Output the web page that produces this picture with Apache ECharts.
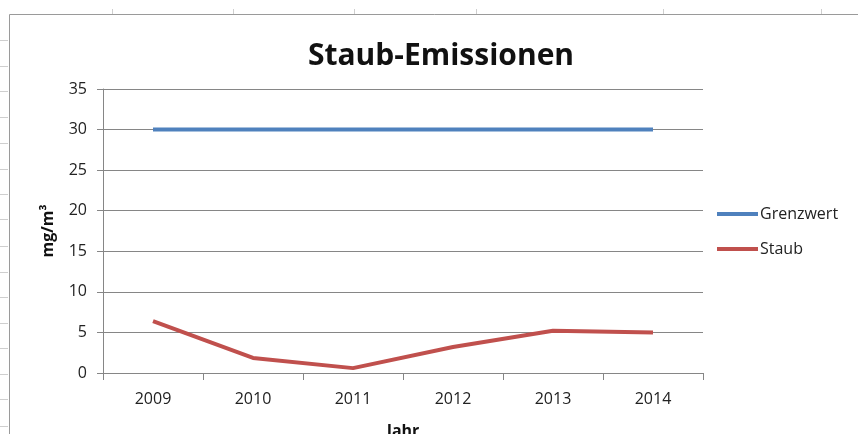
<!DOCTYPE html>
<html>
<head>
<meta charset="utf-8">
<script src="https://cdn.jsdelivr.net/npm/echarts@6/dist/echarts.min.js"></script>
<style>
html,body{margin:0;padding:0;background:#fff;overflow:hidden;}
#c{width:858px;height:434px;}
</style>
</head>
<body>
<div id="c"></div>
<script>
const categories = ['2009','2010','2011','2012','2013','2014'];
const grenzwert = [30, 30, 30, 30, 30, 30];
const staub = [6.4, 1.85, 0.6, 3.2, 5.2, 5.0];
const seriesNames = ['Grenzwert', 'Staub'];
const titleText = 'Staub-Emissionen';
const yName = 'mg/m³';
const xName = 'Jahr';
// spreadsheet decoration (sheet column/row marks outside the chart)
const colMarks = [112, 233, 354, 476, 663, 821];
const rowMarks = [40, 66, 91, 117, 143, 169, 194, 219, 246, 272, 297, 323, 348, 374, 399, 426];

const FONT = '"Open Sans", "Liberation Sans", sans-serif';
const graphics = [];
graphics.push({type:'rect', shape:{x:9.5, y:14.5, width:900, height:500}, style:{fill:'#fff', stroke:'#9a9a9a', lineWidth:1}, z:-10});
colMarks.forEach(x => graphics.push({type:'line', shape:{x1:x+0.5,y1:9,x2:x+0.5,y2:14}, style:{stroke:'#cfcfcf', lineWidth:1}, z:-10}));
rowMarks.forEach(y => graphics.push({type:'line', shape:{x1:0,y1:y+0.5,x2:8,y2:y+0.5}, style:{stroke:'#cfcfcf', lineWidth:1}, z:-10}));

const chart = echarts.init(document.getElementById('c'), null, {width:858, height:434});
chart.setOption({
  animation:false,
  backgroundColor:'#fff',
  graphic: graphics,
  title:{text:titleText, left:436, top:36, textAlign:'center',
    textStyle:{fontFamily:FONT, fontSize:30, fontWeight:'bold', color:'#111'}},
  grid:{left:103, top:89, width:600, height:284, containLabel:false, outerBoundsMode:'none'},
  legend:{orient:'vertical', left:712, top:201, itemWidth:41, itemHeight:4, itemGap:19, icon:'rect',
    data:seriesNames,
    textStyle:{fontFamily:FONT, fontSize:16, color:'#222', padding:[0,0,0,-3]}},
  xAxis:{type:'category', data:categories, boundaryGap:true,
    name:xName, nameLocation:'middle', nameGap:50,
    nameTextStyle:{fontFamily:FONT, fontSize:16, fontWeight:'bold', color:'#111'},
    axisLine:{lineStyle:{color:'#868686', width:1}},
    axisTick:{show:true, length:7, lineStyle:{color:'#868686'}},
    axisLabel:{fontFamily:FONT, fontSize:16, color:'#222', margin:18}},
  yAxis:{type:'value', min:0, max:35, interval:5,
    name:yName, nameLocation:'middle', nameGap:47, nameRotate:90,
    nameTextStyle:{fontFamily:FONT, fontSize:16, fontWeight:'bold', color:'#111'},
    axisLine:{show:true, lineStyle:{color:'#868686', width:1}},
    axisTick:{show:true, length:6, lineStyle:{color:'#868686'}},
    splitLine:{lineStyle:{color:'#868686', width:1}},
    axisLabel:{fontFamily:FONT, fontSize:16, color:'#222', margin:16}},
  series:[
    {name:seriesNames[0], type:'line', data:grenzwert, symbol:'none',
      lineStyle:{color:'#4F81BD', width:4}, itemStyle:{color:'#4F81BD'}},
    {name:seriesNames[1], type:'line', data:staub, symbol:'none',
      lineStyle:{color:'#C0504D', width:4}, itemStyle:{color:'#C0504D'}}
  ]
});
</script>
</body>
</html>
